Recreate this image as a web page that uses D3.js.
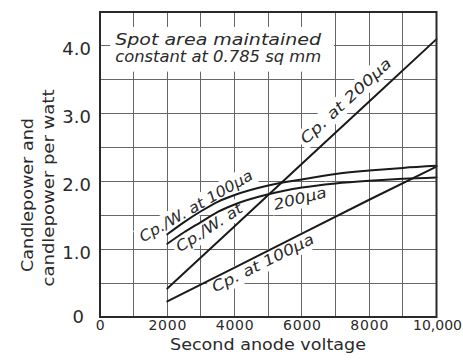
<!DOCTYPE html>
<html>
<head>
<meta charset="utf-8">
<script src="https://cdn.jsdelivr.net/npm/d3@7"></script>
<style>
  body { margin: 0; background: #fff; }
  text { font-family: "DejaVu Sans", sans-serif; fill: #2a2a2a; }
</style>
</head>
<body>
<svg id="chart" width="463" height="364"></svg>
<script>
// values
var lineVolts = [2000, 4000, 6000, 8000, 10000];
var cpAt200 = [0.42, 1.34, 2.26, 3.18, 4.10];
var cpAt100 = [0.23, 0.73, 1.23, 1.73, 2.22];

var curveVolts = [2000, 2500, 3000, 3500, 4000, 5000, 6000, 7000, 8000, 9000, 10000];
var cpwAt100 = [1.22, 1.40, 1.56, 1.70, 1.80, 1.94, 2.03, 2.11, 2.16, 2.20, 2.23];
var cpwAt200 = [1.08, 1.25, 1.40, 1.55, 1.66, 1.81, 1.91, 1.97, 2.01, 2.04, 2.06];

var xTicks = [0, 2000, 4000, 6000, 8000, 10000];
var xTickText = ["0", "2000", "4000", "6000", "8000", "10,000"];
var yTicks = [0, 1, 2, 3, 4];
var yTickText = ["0", "1.0", "2.0", "3.0", "4.0"];
var xGrid = [1000, 2000, 3000, 4000, 5000, 6000, 7000, 8000, 9000];
var yGrid = [0.5, 1, 1.5, 2, 2.5, 3, 3.5, 4];

var svg = d3.select("#chart");
var x = d3.scaleLinear().domain([0, 10000]).range([100, 436.5]);
var y = d3.scaleLinear().domain([0, 4.5]).range([317, 12]);

svg.append("rect").attr("width", 463).attr("height", 364).attr("fill", "#fff");

// grid
var grid = svg.append("g").attr("stroke", "#666").attr("stroke-width", 1)
  .attr("shape-rendering", "crispEdges");
grid.selectAll(".vx").data(xGrid).enter().append("line")
  .attr("x1", d => x(d)).attr("x2", d => x(d))
  .attr("y1", y(0)).attr("y2", y(4.5));
grid.selectAll(".hy").data(yGrid).enter().append("line")
  .attr("x1", x(0)).attr("x2", x(10000))
  .attr("y1", d => y(d)).attr("y2", d => y(d));

// blank box for the note
svg.append("rect")
  .attr("x", x(300)).attr("y", y(4.28))
  .attr("width", x(6950) - x(300)).attr("height", y(3.62) - y(4.28))
  .attr("fill", "#fff");

var note = svg.append("g").attr("font-style", "italic").attr("font-size", 15);
note.append("text").attr("x", x(450)).attr("y", y(4.02))
  .attr("textLength", 206).attr("lengthAdjust", "spacingAndGlyphs")
  .text("Spot area maintained");
note.append("text").attr("x", x(450)).attr("y", y(3.755))
  .attr("textLength", 206).attr("lengthAdjust", "spacingAndGlyphs")
  .text("constant at 0.785 sq mm");

// curve labels, each with a white patch that breaks the grid
var labelLayer = svg.append("g");
function angleOf(vs, ys) {
  var n = vs.length - 1;
  return Math.atan2(y(ys[n]) - y(ys[0]), x(vs[n]) - x(vs[0])) * 180 / Math.PI;
}
function label(txt, v, val, ang, len) {
  var g = labelLayer.append("g")
    .attr("transform", "translate(" + x(v) + "," + y(val) + ") rotate(" + ang + ")");
  var t = g.append("text").attr("font-style", "italic").attr("font-size", 15)
    .attr("textLength", len).attr("lengthAdjust", "spacingAndGlyphs").text(txt);
  var b = t.node().getBBox();
  g.insert("rect", "text").attr("x", b.x - 3).attr("y", b.y - 1)
    .attr("width", b.width + 6).attr("height", b.height + 2).attr("fill", "#fff");
}
label("Cp. at 200\u00b5a", 6120, 2.54, angleOf(lineVolts, cpAt200), 118);
label("Cp. at 100\u00b5a", 3420, 0.36, angleOf(lineVolts, cpAt100), 112);
label("Cp./W. at 100\u00b5a", 1280, 1.10, -30, 128);
label("Cp./W. at", 2380, 0.95, -33, 76);
label("200\u00b5a", 5200, 1.58, -14, 54);

// curves
var line = d3.line().x(d => x(d[0])).y(d => y(d[1]));
var smooth = d3.line().x(d => x(d[0])).y(d => y(d[1])).curve(d3.curveMonotoneX);
var curves = svg.append("g").attr("fill", "none").attr("stroke", "#1a1a1a")
  .attr("stroke-width", 2).attr("stroke-linecap", "round");
curves.append("path").attr("d", line(d3.zip(lineVolts, cpAt200)));
curves.append("path").attr("d", line(d3.zip(lineVolts, cpAt100)));
curves.append("path").attr("d", smooth(d3.zip(curveVolts, cpwAt100)));
curves.append("path").attr("d", smooth(d3.zip(curveVolts, cpwAt200)));

// frame
svg.append("rect")
  .attr("x", x(0)).attr("y", y(4.5))
  .attr("width", x(10000) - x(0)).attr("height", y(0) - y(4.5))
  .attr("fill", "none").attr("stroke", "#2a2a2a").attr("stroke-width", 2);

// axes
var xAxis = svg.append("g").attr("transform", "translate(0," + y(0) + ")")
  .call(d3.axisBottom(x).tickValues(xTicks).tickFormat((d, i) => xTickText[i])
    .tickSize(0).tickPadding(3));
xAxis.select(".domain").remove();
xAxis.selectAll("text").attr("font-size", 14).attr("letter-spacing", 0.8)
  .attr("fill", "#2a2a2a").attr("font-family", "DejaVu Sans, sans-serif");
xAxis.selectAll("text").filter((d, i) => i === xTicks.length - 1)
  .attr("text-anchor", "end").attr("dx", 25).attr("letter-spacing", 0);

var yAxis = svg.append("g").attr("transform", "translate(" + x(0) + ",0)")
  .call(d3.axisLeft(y).tickValues(yTicks).tickFormat((d, i) => yTickText[i])
    .tickSize(0).tickPadding(9));
yAxis.select(".domain").remove();
yAxis.selectAll("text").attr("font-size", 18).attr("dy", "0.5em")
  .attr("fill", "#2a2a2a").attr("font-family", "DejaVu Sans, sans-serif");
yAxis.selectAll("text").filter((d, i) => i === 0).attr("dx", -7).attr("dy", "0.32em");

// titles
svg.append("text").attr("x", 268).attr("y", 350).attr("text-anchor", "middle")
  .attr("font-size", 15).attr("textLength", 196).attr("lengthAdjust", "spacingAndGlyphs")
  .text("Second anode voltage");
svg.append("text").attr("transform", "translate(33,195) rotate(-90)")
  .attr("text-anchor", "middle").attr("font-size", 16)
  .attr("textLength", 154).attr("lengthAdjust", "spacingAndGlyphs")
  .text("Candlepower and");
svg.append("text").attr("transform", "translate(54,188) rotate(-90)")
  .attr("text-anchor", "middle").attr("font-size", 16)
  .attr("textLength", 197).attr("lengthAdjust", "spacingAndGlyphs")
  .text("candlepower per watt");
</script>
</body>
</html>
